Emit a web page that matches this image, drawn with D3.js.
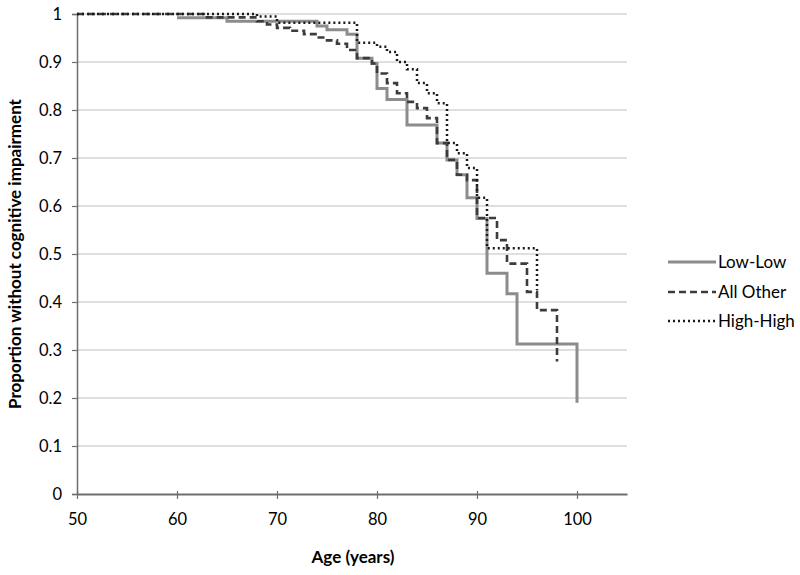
<!DOCTYPE html>
<html>
<head>
<meta charset="utf-8">
<script src="https://cdn.jsdelivr.net/npm/d3@7"></script>
<style>
  body { margin: 0; background: #fff; }
  svg { display: block; }
  text { font-family: Lato, "Open Sans", sans-serif; fill: #000; }
</style>
</head>
<body>
<svg id="chart" width="800" height="575"></svg>
<script>
// ---- Data (step points: [age, proportion]) ----
const seriesNames = ["Low-Low", "All Other", "High-High"];

const lowLow = [
  [60, 0.992], [65, 0.985], [74, 0.975], [75, 0.967], [77, 0.958],
  [78, 0.908], [79.5, 0.897], [80, 0.845], [81, 0.822], [83, 0.769],
  [86, 0.731], [87, 0.696], [88, 0.665], [89, 0.617], [90, 0.574],
  [91, 0.46], [93, 0.417], [94, 0.3125], [100, 0.19]
];

const allOther = [
  [50, 1], [63, 0.993], [68, 0.985], [69, 0.978], [70, 0.971], [71.3, 0.965],
  [72.7, 0.958], [74, 0.951], [75, 0.945], [76, 0.938], [77, 0.925],
  [78, 0.908], [79.5, 0.897], [80, 0.876], [81, 0.856], [82, 0.835],
  [83, 0.817], [84, 0.804], [85, 0.783], [86, 0.731], [87, 0.696],
  [88, 0.665], [89, 0.654], [90, 0.575], [92, 0.529], [93, 0.48],
  [95, 0.421], [96, 0.383], [98, 0.276]
];

const highHigh = [
  [50, 1], [68, 0.995], [70, 0.982], [78, 0.94], [80, 0.932], [81, 0.921],
  [82, 0.9], [83, 0.885], [84, 0.856], [85, 0.835], [86, 0.814],
  [87, 0.731], [88, 0.71], [89, 0.679], [90, 0.617], [91, 0.512],
  [96, 0.425]
];

const xTicks = [50, 60, 70, 80, 90, 100];
const yTicks = [0, 0.1, 0.2, 0.3, 0.4, 0.5, 0.6, 0.7, 0.8, 0.9, 1];

// ---- Layout ----
const svg = d3.select("#chart");
const pLeft = 77, pRight = 627, pTop = 14, pBottom = 494;

const x = d3.scaleLinear().domain([50, 105]).range([pLeft, pRight]);
const y = d3.scaleLinear().domain([0, 1]).range([pBottom, pTop]);

// gridlines
svg.append("g")
  .selectAll("line")
  .data(yTicks.filter(d => d > 0))
  .join("line")
  .attr("x1", pLeft).attr("x2", pRight)
  .attr("y1", d => y(d)).attr("y2", d => y(d))
  .attr("stroke", "#bfbfbf").attr("stroke-width", 1.2);

// y axis
const yAxis = svg.append("g")
  .attr("transform", `translate(${pLeft},0)`)
  .call(d3.axisLeft(y).tickValues(yTicks).tickSize(5).tickPadding(10)
    .tickFormat(d => d === 0 ? "0" : d === 1 ? "1" : d3.format(".1f")(d)));
yAxis.select(".domain").attr("stroke", "#6e6e6e").attr("stroke-width", 1.5);
yAxis.selectAll(".tick line").attr("stroke", "#6e6e6e").attr("stroke-width", 1.2);
yAxis.selectAll(".tick text").style("font-size", "16.5px").style("font-family", "Lato, 'Open Sans', sans-serif").attr("fill", "#000");

// x axis
const xAxis = svg.append("g")
  .attr("transform", `translate(0,${pBottom})`)
  .call(d3.axisBottom(x).tickValues(xTicks).tickSize(5).tickPadding(14).tickSizeOuter(0));
xAxis.select(".domain").attr("stroke", "#6e6e6e").attr("stroke-width", 2);
xAxis.selectAll(".tick line").attr("stroke", "#6e6e6e").attr("stroke-width", 1.2).attr("y1", -3);
xAxis.selectAll(".tick text").style("font-size", "16.5px").style("font-family", "Lato, 'Open Sans', sans-serif").attr("fill", "#000");

// axis titles
svg.append("text")
  .attr("x", 353).attr("y", 563)
  .attr("text-anchor", "middle")
  .style("font-size", "17px").style("font-weight", "bold")
  .text("Age (years)");

svg.append("text")
  .attr("transform", `translate(21,${(pTop + pBottom) / 2}) rotate(-90)`)
  .attr("text-anchor", "middle")
  .style("font-size", "17px").style("font-weight", "bold")
  .text("Proportion without cognitive impairment");

// ---- Curves ----
const line = d3.line()
  .x(d => x(d[0])).y(d => y(d[1]))
  .curve(d3.curveStepAfter);

const styles = [
  { data: lowLow, color: "#8c8c8c", width: 3, dash: null },
  { data: allOther, color: "#3c3c3c", width: 2.6, dash: "7,4" },
  { data: highHigh, color: "#1a1a1a", width: 2.5, dash: "2,3" }
];

svg.append("g")
  .selectAll("path")
  .data(styles)
  .join("path")
  .attr("d", d => line(d.data))
  .attr("fill", "none")
  .attr("stroke", d => d.color)
  .attr("stroke-width", d => d.width)
  .attr("stroke-dasharray", d => d.dash);

// ---- Legend ----
const legend = svg.append("g");
const legendY = [262, 292, 321];
seriesNames.forEach((name, i) => {
  const s = styles[i];
  legend.append("line")
    .attr("x1", 668).attr("x2", 716)
    .attr("y1", legendY[i]).attr("y2", legendY[i])
    .attr("stroke", s.color).attr("stroke-width", s.width)
    .attr("stroke-dasharray", s.dash);
  legend.append("text")
    .attr("x", 718).attr("y", legendY[i] + 6)
    .style("font-size", "17px")
    .text(name);
});
</script>
</body>
</html>
